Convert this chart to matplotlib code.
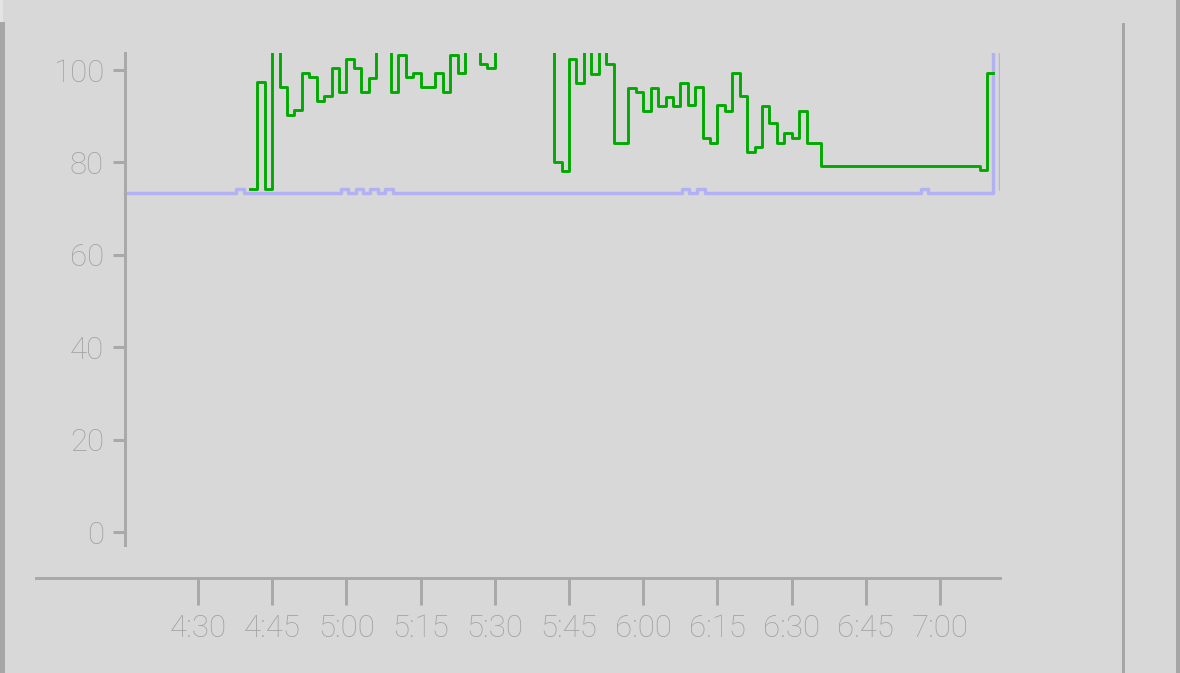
import matplotlib
matplotlib.use("Agg")
import matplotlib.pyplot as plt
from matplotlib.patches import Rectangle

# green series: step samples (time, value); values above ~104 are clipped at the top
green_times = [
    "4:40:30", "4:42:00", "4:43:30", "4:45:00", "4:46:30", "4:48:00", "4:49:30", "4:51:00",
    "4:52:30", "4:54:00", "4:55:30", "4:57:00", "4:58:30", "5:00:00", "5:01:30", "5:03:00",
    "5:04:30", "5:06:00", "5:07:30", "5:09:00", "5:10:30", "5:12:00", "5:13:30", "5:15:00",
    "5:16:30", "5:18:00", "5:19:30", "5:21:00", "5:22:30", "5:24:00", "5:25:30", "5:27:00",
    "5:28:30", "5:30:00", "5:31:30", "5:33:00", "5:34:30", "5:36:00", "5:37:30", "5:39:00",
    "5:40:30", "5:42:00", "5:43:30", "5:45:00", "5:46:30", "5:48:00", "5:49:30", "5:51:00",
    "5:52:30", "5:54:00", "5:55:30", "5:57:00", "5:58:30", "6:00:00", "6:01:30", "6:03:00",
    "6:04:30", "6:06:00", "6:07:30", "6:09:00", "6:10:30", "6:12:00", "6:13:30", "6:15:00",
    "6:16:30", "6:18:00", "6:19:30", "6:21:00", "6:22:30", "6:24:00", "6:25:30", "6:27:00",
    "6:28:30", "6:30:00", "6:31:30", "6:33:00", "6:34:30", "6:36:00", "7:08:00", "7:09:30",
    "7:10:45",
]
green_vals = [
    74.2, 97.4, 74.2, 110, 96.3, 90.3, 91.3, 99.3,
    98.4, 93.3, 94.4, 100.4, 95.3, 102.4, 100.4, 95.3,
    98.2, 110, 110, 95.3, 103.2, 98.4, 99.3, 96.4,
    96.4, 99.3, 95.3, 103.2, 99.3, 110, 110, 101.3,
    100.4, 110, 110, 110, 110, 110, 110, 110,
    110, 80.2, 78.1, 102.4, 97.1, 110, 99.1, 110,
    101.3, 84.3, 84.3, 96.2, 95.3, 91.2, 96.2, 92.2,
    94.2, 92.2, 97.3, 92.4, 96.4, 85.2, 84.3, 92.4,
    91.2, 99.3, 94.4, 82.3, 83.3, 92.3, 88.5, 84.3,
    86.3, 85.2, 91.2, 84.3, 84.3, 79.3, 78.4, 99.3,
    99.3,
]

# blue series: flat baseline with short bumps, jumps off the top at the end
blue_times = [
    "4:15:15", "4:37:45", "4:39:15", "4:58:50", "5:00:15", "5:01:50", "5:03:20",
    "5:04:50", "5:06:20", "5:07:50", "5:09:20", "6:07:55", "6:09:20", "6:10:55",
    "6:12:25", "6:56:05", "6:57:30", "7:10:46", "7:12:06", "7:13:30",
]
blue_vals = [
    73.4, 74.3, 73.4, 74.3, 73.4, 74.3, 73.4,
    74.3, 73.4, 74.3, 73.4, 74.3, 73.4, 74.3,
    73.4, 74.3, 73.4, 110, 74.2, 74.2,
]

x_ticks = ["4:30", "4:45", "5:00", "5:15", "5:30", "5:45", "6:00", "6:15", "6:30", "6:45", "7:00"]
y_ticks = [0, 20, 40, 60, 80, 100]


def to_min(s):
    parts = [int(p) for p in s.split(":")]
    while len(parts) < 3:
        parts.append(0)
    h, m, sec = parts
    return h * 60 + m + sec / 60.0


BG = "#d8d8d8"
AXIS = "#a9a9a9"
TEXT = "#a2a2a2"
PX = 72.0 / 100  # points per pixel at dpi 100

plt.rcParams["font.family"] = ["Roboto", "DejaVu Sans"]
plt.rcParams["font.weight"] = "light"

fig = plt.figure(figsize=(11.8, 6.73), dpi=100, facecolor=BG)
ax = fig.add_axes([36 / 1180, 128 / 673, 964 / 1180, 492 / 673])
ax.set_facecolor(BG)

ax.step([to_min(t) for t in blue_times], blue_vals, where="post",
        color="#b2b2f2", lw=3.4 * PX, zorder=2)
ax.step([to_min(t) for t in green_times], green_vals, where="post",
        color="#00aa00", lw=2.9 * PX, zorder=3)

ax.set_xlim(to_min("4:30") - 162 / 4.947, to_min("7:12:06"))
ax.set_ylim(-2.8, 103.7)

for side in ("top", "right"):
    ax.spines[side].set_visible(False)
ax.spines["left"].set_position(("data", to_min("4:15:15")))
ax.spines["bottom"].set_position(("outward", 32.5 * PX))
for side in ("left", "bottom"):
    ax.spines[side].set_color(AXIS)
    ax.spines[side].set_linewidth(3 * PX)

ax.set_xticks([to_min(t) for t in x_ticks])
ax.set_xticklabels(x_ticks)
ax.set_yticks(y_ticks)
ax.tick_params(axis="x", length=27 * PX, width=3 * PX, color=AXIS,
               labelcolor=TEXT, labelsize=22.5, pad=7)
ax.tick_params(axis="y", length=12 * PX, width=3 * PX, color=AXIS,
               labelcolor=TEXT, labelsize=22.5, pad=6.5)

# page frame bits around the chart
W, H = 1180, 673
fig.add_artist(Rectangle((0, 0), 5 / W, (H - 22) / H, transform=fig.transFigure,
                         color="#a6a6a6", lw=0))
fig.add_artist(Rectangle((0, (H - 22) / H), 3 / W, 22 / H, transform=fig.transFigure,
                         color="#e4e4e4", lw=0))
fig.add_artist(Rectangle((1122 / W, 0), 3 / W, (H - 23) / H, transform=fig.transFigure,
                         color="#a6a6a6", lw=0))
fig.add_artist(Rectangle((1176 / W, 0), 4 / W, 1, transform=fig.transFigure,
                         color="#a6a6a6", lw=0))

fig.savefig("out.png", dpi=100, facecolor=BG)
